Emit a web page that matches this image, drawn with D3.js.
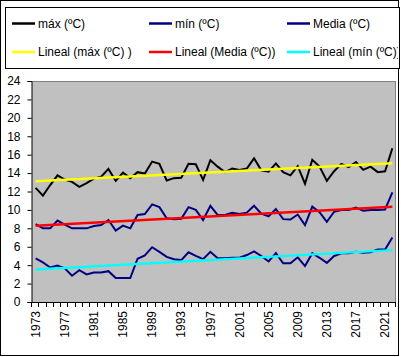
<!DOCTYPE html>
<html>
<head>
<meta charset="utf-8">
<script src="https://cdn.jsdelivr.net/npm/d3@7"></script>
<style>
  html, body { margin: 0; padding: 0; background: #fff; }
  svg { display: block; font-family: Arial, "Liberation Sans", sans-serif; }
</style>
</head>
<body>
<svg id="chart" width="401" height="357"></svg>
<script>
// ---- data ----
const years = d3.range(1973, 2023);
const maxTemp = [12.4, 11.55, 12.7, 13.75, 13.3, 13.05, 12.5, 12.9, 13.4, 13.6,
                 14.45, 13.15, 14.05, 13.45, 14.1, 13.95, 15.25, 15.0, 13.2, 13.45,
                 13.5, 15.0, 14.95, 13.25, 15.4, 14.7, 14.1, 14.5, 14.35, 14.5,
                 15.6, 14.3, 14.15, 15.05, 14.1, 13.75, 14.75, 12.85, 15.45, 14.7,
                 13.15, 14.2, 15.0, 14.65, 15.2, 14.35, 14.7, 14.1, 14.2, 16.7];
const minTemp = [4.75, 4.3, 3.75, 3.95, 3.65, 2.85, 3.45, 3.0, 3.2, 3.2,
                 3.35, 2.6, 2.6, 2.6, 4.7, 5.05, 5.95, 5.45, 4.9, 4.65,
                 4.55, 5.4, 5.0, 4.65, 5.45, 4.75, 4.75, 4.8, 4.8, 5.1,
                 5.5, 5.0, 4.4, 5.3, 4.2, 4.2, 4.85, 3.9, 5.3, 4.8,
                 4.25, 5.0, 5.3, 5.3, 5.45, 5.35, 5.4, 5.7, 5.7, 7.0];
const meanTemp = [8.45, 8.0, 8.0, 8.85, 8.4, 8.0, 8.0, 8.0, 8.25, 8.35,
                  8.9, 7.75, 8.3, 8.0, 9.45, 9.55, 10.6, 10.3, 9.1, 9.0,
                  9.05, 10.3, 10.0, 8.9, 10.45, 9.45, 9.45, 9.7, 9.55, 9.7,
                  10.45, 9.6, 9.3, 10.1, 9.0, 8.95, 9.5, 8.35, 10.35, 9.75,
                  8.7, 9.8, 10.0, 10.0, 10.25, 9.9, 10.0, 10.0, 10.05, 11.9];
const yTicks = [0, 2, 4, 6, 8, 10, 12, 14, 16, 18, 20, 22, 24];
const xTickLabels = years.filter((y, i) => i % 4 === 0);

const seriesNames = ["máx (ºC)", "mín (ºC)", "Media (ºC)"];
const trendNames = ["Lineal (máx (ºC) )", "Lineal (Media (ºC))", "Lineal (mín (ºC))"];

// ---- layout ----
const svg = d3.select("#chart");
const plot = { left: 32, right: 396, top: 81, bottom: 302 };

const x = d3.scaleBand().domain(years).range([plot.left, plot.right]).padding(0);
const cx = d => x(d) + x.bandwidth() / 2;
const y = d3.scaleLinear().domain([0, 24]).range([plot.bottom, plot.top]);

// outer border
svg.append("rect").attr("x", 0.5).attr("y", 0.5).attr("width", 398).attr("height", 355)
  .attr("fill", "#fff").attr("stroke", "#000");

// plot background
svg.append("rect").attr("x", plot.left).attr("y", plot.top)
  .attr("width", plot.right - plot.left).attr("height", plot.bottom - plot.top)
  .attr("fill", "#c0c0c0");
svg.append("path")
  .attr("d", `M${plot.left},${plot.top + 0.5}H${plot.right - 0.5}V${plot.bottom}`)
  .attr("fill", "none").attr("stroke", "#808080");

// y axis
const yAxis = d3.axisLeft(y).tickValues(yTicks).tickSize(4).tickPadding(7).tickFormat(d3.format("d"));
const gy = svg.append("g").attr("transform", `translate(${plot.left - 0.5},0)`).call(yAxis);
gy.select(".domain").attr("stroke", "#000");
gy.selectAll(".tick line").attr("stroke", "#000");
gy.selectAll("text").attr("font-size", 12).attr("fill", "#000")
  .attr("font-family", "Arial, 'Liberation Sans', sans-serif");

// x axis: tick marks at category boundaries, labels every 4 years
const boundaries = years.map(d => x(d)).concat([plot.right]);
const gx = svg.append("g");
gx.append("line").attr("x1", plot.left).attr("x2", plot.right)
  .attr("y1", plot.bottom + 0.5).attr("y2", plot.bottom + 0.5).attr("stroke", "#000");
gx.selectAll("line.tk").data(boundaries).enter().append("line").attr("class", "tk")
  .attr("x1", d => Math.round(d) - 0.5).attr("x2", d => Math.round(d) - 0.5)
  .attr("y1", plot.bottom).attr("y2", plot.bottom + 5).attr("stroke", "#000");
gx.selectAll("text").data(xTickLabels).enter().append("text")
  .attr("transform", d => `translate(${cx(d)},${plot.bottom + 9}) rotate(-90)`)
  .attr("text-anchor", "end").attr("dy", "0.35em")
  .attr("font-size", 12).attr("fill", "#000")
  .text(d => d);

// lines
const line = d3.line().x((d, i) => cx(years[i])).y(d => y(d));
const dataSeries = [
  { values: maxTemp, color: "#000000" },
  { values: minTemp, color: "#000080" },
  { values: meanTemp, color: "#000080" }
];
dataSeries.forEach(s => {
  svg.append("path").datum(s.values).attr("d", line)
    .attr("fill", "none").attr("stroke", s.color).attr("stroke-width", 2)
    .attr("stroke-linejoin", "miter");
});

// linear trendlines (least squares)
function linreg(vals) {
  const n = vals.length, xs = d3.range(n);
  const mx = d3.mean(xs), my = d3.mean(vals);
  let num = 0, den = 0;
  xs.forEach((xi, i) => { num += (xi - mx) * (vals[i] - my); den += (xi - mx) ** 2; });
  const b = num / den, a = my - b * mx;
  return [a, a + b * (n - 1)];
}
const trends = [
  { values: maxTemp, color: "#ffff00" },
  { values: meanTemp, color: "#ff0000" },
  { values: minTemp, color: "#00ffff" }
];
trends.forEach(t => {
  const [y0, y1] = linreg(t.values);
  svg.append("line")
    .attr("x1", cx(years[0])).attr("x2", cx(years[years.length - 1]))
    .attr("y1", y(y0)).attr("y2", y(y1))
    .attr("stroke", t.color).attr("stroke-width", 2.5);
});

// legend
const legend = svg.append("g");
svg.append("clipPath").attr("id", "legclip").append("rect")
  .attr("x", 5).attr("y", 7).attr("width", 393).attr("height", 62);
legend.append("rect").attr("x", 5.5).attr("y", 7.5).attr("width", 394).attr("height", 61)
  .attr("fill", "#fff").attr("stroke", "#000");
const legItems = [
  { name: seriesNames[0], color: "#000000", col: 0, row: 0 },
  { name: seriesNames[1], color: "#000080", col: 1, row: 0 },
  { name: seriesNames[2], color: "#000080", col: 2, row: 0 },
  { name: trendNames[0], color: "#ffff00", col: 0, row: 1 },
  { name: trendNames[1], color: "#ff0000", col: 1, row: 1 },
  { name: trendNames[2], color: "#00ffff", col: 2, row: 1 }
];
const colX = [12, 149, 287];
const rowY = [23.5, 52];
const lg = legend.append("g").attr("clip-path", "url(#legclip)");
legItems.forEach(it => {
  const gx0 = colX[it.col], gy0 = rowY[it.row];
  lg.append("line").attr("x1", gx0).attr("x2", gx0 + 23).attr("y1", gy0).attr("y2", gy0)
    .attr("stroke", it.color).attr("stroke-width", 2.5);
  lg.append("text").attr("x", gx0 + 26).attr("y", gy0).attr("dy", "0.35em")
    .attr("font-size", 12).attr("fill", "#000").text(it.name);
});
</script>
</body>
</html>
